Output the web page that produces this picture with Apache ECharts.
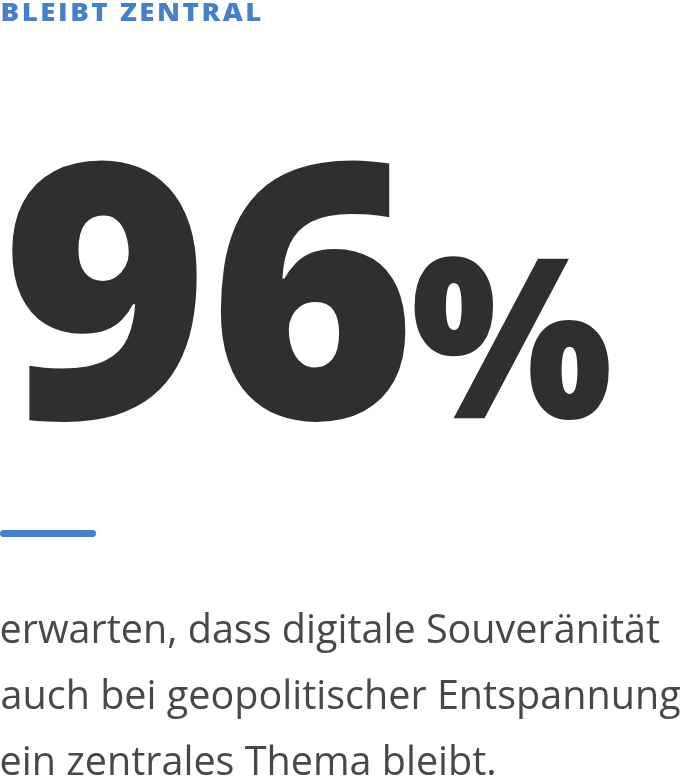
<!DOCTYPE html>
<html>
<head>
<meta charset="utf-8">
<script src="https://cdn.jsdelivr.net/npm/echarts@6/dist/echarts.min.js"></script>
<style>
  html, body { margin: 0; padding: 0; background: #ffffff; }
  #chart { width: 682px; height: 781px; }
</style>
</head>
<body>
<div id="chart"></div>
<script>
// content
var kickerText = 'BLEIBT ZENTRAL';
var shareValue = 96;
var shareUnit = '%';
var bodyLines = [
  'erwarten, dass digitale Souveränität',
  'auch bei geopolitischer Entspannung',
  'ein zentrales Thema bleibt.'
];

var blue = '#4580c8';
var dark = '#2f2f2f';
var grey = '#484848';

var numberFont = '800 100px "Open Sans"';
var kickerFont = '800 100px "Open Sans"';
var bodyFontFamily = '"Open Sans"';

var measureCtx = document.createElement('canvas').getContext('2d');
measureCtx.textBaseline = 'middle';
measureCtx.textAlign = 'left';

function measure(text, font) {
  measureCtx.font = font;
  return measureCtx.measureText(text);
}

// scale a text so its ink fills the given box
function fitBox(text, font, box) {
  var m = measure(text, font);
  var w = m.actualBoundingBoxLeft + m.actualBoundingBoxRight;
  var h = m.actualBoundingBoxAscent + m.actualBoundingBoxDescent;
  var sx = (box.r - box.l) / w;
  var sy = (box.b - box.t) / h;
  return {
    x: box.l + sx * m.actualBoundingBoxLeft,
    y: box.t + sy * m.actualBoundingBoxAscent,
    scaleX: sx,
    scaleY: sy
  };
}

function textEl(text, font, fill, fit) {
  return {
    type: 'text',
    x: fit.x,
    y: fit.y,
    scaleX: fit.scaleX,
    scaleY: fit.scaleY,
    style: {
      text: text,
      font: font,
      fill: fill,
      textAlign: 'left',
      textVerticalAlign: 'middle'
    }
  };
}

var elements = [];

// kicker, letter spaced (glyphs a bit wider than Open Sans)
(function () {
  var box = { l: 2.5, r: 260.5, t: 3, b: 21 };
  var whole = fitBox(kickerText, kickerFont, box);
  var s = whole.scaleY;
  var sx = s * 1.12;
  var m = measure(kickerText, kickerFont);
  var ink = (m.actualBoundingBoxLeft + m.actualBoundingBoxRight) * sx;
  var chars = kickerText.split('');
  var gap = (box.r - box.l - ink) / (chars.length - 1);
  var x = box.l + sx * m.actualBoundingBoxLeft;
  chars.forEach(function (ch) {
    elements.push(textEl(ch, kickerFont, blue, { x: x, y: whole.y, scaleX: sx, scaleY: s }));
    x += measure(ch, kickerFont).width * sx + gap;
  });
})();

// big number
elements.push(textEl(String(shareValue), numberFont, dark,
  fitBox(String(shareValue), numberFont, { l: 12, r: 407, t: 162, b: 422 })));
elements.push(textEl(shareUnit, numberFont, dark,
  fitBox(shareUnit, numberFont, { l: 413, r: 609, t: 257, b: 420 })));

// rule
elements.push({
  type: 'line',
  shape: { x1: 3.5, y1: 533.5, x2: 92.5, y2: 533.5 },
  style: { stroke: blue, lineWidth: 7, lineCap: 'round' }
});

// body text
(function () {
  var xm = measure('x', '500 100px ' + bodyFontFamily);
  var xh = xm.actualBoundingBoxAscent + xm.actualBoundingBoxDescent;
  var size = 100 * 22 / xh;
  var font = '500 ' + size.toFixed(2) + 'px ' + bodyFontFamily;
  var ref = measure(bodyLines[1], font);
  var sx = 679 / (ref.actualBoundingBoxLeft + ref.actualBoundingBoxRight);
  var toBase = measure('x', font).actualBoundingBoxDescent;
  var baselines = [643, 709, 775];
  bodyLines.forEach(function (line, i) {
    var m = measure(line, font);
    elements.push(textEl(line, font, grey, {
      x: 1.5 + sx * m.actualBoundingBoxLeft,
      y: baselines[i] - toBase,
      scaleX: sx,
      scaleY: 1
    }));
  });
})();

var chart = echarts.init(document.getElementById('chart'), null, { renderer: 'canvas' });
chart.setOption({
  backgroundColor: '#ffffff',
  animation: false,
  graphic: { elements: elements }
});
</script>
</body>
</html>
